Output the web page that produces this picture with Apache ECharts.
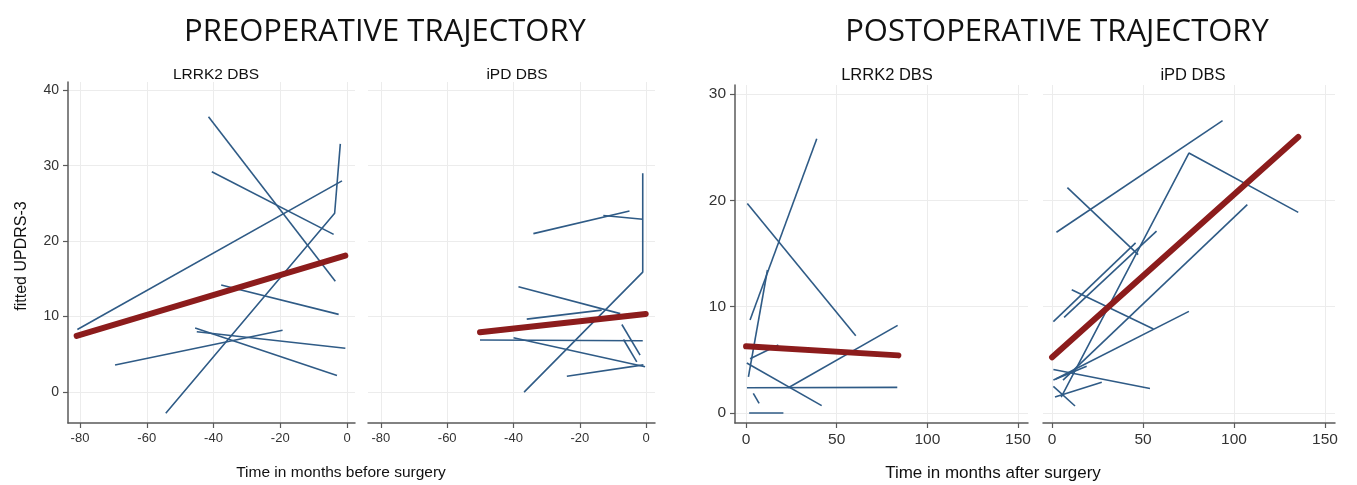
<!DOCTYPE html>
<html><head><meta charset="utf-8">
<script src="https://cdn.jsdelivr.net/npm/echarts@6/dist/echarts.min.js"></script>
<style>html,body{margin:0;padding:0;background:#fff}#c{width:1357px;height:485px}</style>
</head><body><div id="c"></div>
<script>
const preXTicks = [-80, -60, -40, -20, 0];
const preYTicks = [0, 10, 20, 30, 40];
const postXTicks = [0, 50, 100, 150];
const postYTicks = [0, 10, 20, 30];

const preLrrk2Lines = [
  [[-80.8, 8.3], [-1.5, 28.0]],
  [[-41.5, 36.5], [-3.5, 14.7]],
  [[-40.5, 29.2], [-4, 20.9]],
  [[-54.3, -2.8], [-3.7, 23.7], [-2, 32.9]],
  [[-37.7, 14.2], [-2.5, 10.3]],
  [[-45.5, 8.5], [-3, 2.2]],
  [[-45, 8.0], [-0.5, 5.8]],
  [[-69.5, 3.6], [-19.3, 8.2]]
];
const preLrrk2Fit = [[-81, 7.45], [-0.5, 18.1]];

const preIpdLines = [
  [[-36.8, 0], [-1, 15.9], [-1, 29]],
  [[-34, 21], [-5, 24]],
  [[-12.9, 23.4], [-1, 22.9]],
  [[-38.5, 13.95], [-7.8, 10.4]],
  [[-36, 9.67], [-13.4, 10.86]],
  [[-7.3, 8.96], [-1.8, 4.9]],
  [[-6.8, 6.97], [-2.8, 4.0]],
  [[-50.1, 6.9], [-1, 6.8]],
  [[-40, 7.2], [-0.3, 3.35]],
  [[-23.9, 2.1], [-0.8, 3.6]]
];
const preIpdFit = [[-50.1, 7.94], [-0.1, 10.36]];

const postLrrk2Lines = [
  [[2.2, 8.75], [39, 25.8]],
  [[1.3, 3.4], [11.8, 13.45]],
  [[0.7, 19.7], [60.5, 7.27]],
  [[0.4, 4.7], [41.7, 0.69]],
  [[0.5, 2.38], [83.4, 2.41]],
  [[23.3, 2.38], [83.6, 8.24]],
  [[2.2, 5.1], [17.8, 6.4]],
  [[4, 1.85], [7.2, 0.9]],
  [[1.7, 0], [20.6, 0]]
];
const postLrrk2Fit = [[0, 6.27], [84, 5.42]];

const postIpdLines = [
  [[2.4, 17], [93.7, 27.5]],
  [[5, 1.5], [75.2, 24.45], [135.3, 18.87]],
  [[8.4, 21.2], [47.3, 14.9]],
  [[0.7, 8.6], [45.9, 16.0]],
  [[6.6, 9.0], [57.4, 17.1]],
  [[10.8, 11.6], [55.7, 7.9]],
  [[2, 3.2], [75.2, 9.56]],
  [[6, 3.1], [107.3, 19.6]],
  [[0.7, 4.1], [53.8, 2.3]],
  [[0.7, 3.1], [19, 4.4]],
  [[1.6, 1.5], [27.3, 2.9]],
  [[0.7, 2.5], [12.6, 0.66]]
];
const postIpdFit = [[0, 5.24], [135.3, 25.96]];

const BLUE = '#2f5b86';
const RED = '#8c1c1c';
const AX = '#5a5a5a';
const GRIDC = '#ececec';
const FONT = 'Liberation Sans';

function xAxisCfg(grid, min, max, ticks, fs) {
  return {
    type: 'value', gridIndex: grid, min: min, max: max,
    axisLine: { show: true, onZero: false, lineStyle: { color: AX, width: 1.5 } },
    axisTick: { show: true, length: 5, customValues: ticks, lineStyle: { color: AX, width: 1.2 } },
    axisLabel: { show: true, customValues: ticks, margin: 9, color: '#333', fontSize: fs, fontFamily: FONT },
    splitLine: { show: true, customValues: ticks, lineStyle: { color: GRIDC, width: 1 } }
  };
}
function yAxisCfg(grid, min, max, ticks, showAxis, fs) {
  return {
    type: 'value', gridIndex: grid, min: min, max: max,
    axisLine: { show: showAxis, onZero: false, lineStyle: { color: AX, width: 1.5 } },
    axisTick: { show: showAxis, length: 5, customValues: ticks, lineStyle: { color: AX, width: 1.2 } },
    axisLabel: { show: showAxis, customValues: ticks, margin: 9, color: '#333', fontSize: fs, fontFamily: FONT },
    splitLine: { show: true, customValues: ticks, lineStyle: { color: GRIDC, width: 1 } }
  };
}

const series = [];
function addGroup(lines, fit, idx) {
  lines.forEach(function (l) {
    series.push({ type: 'line', xAxisIndex: idx, yAxisIndex: idx, data: l, symbol: 'none', silent: true,
      lineStyle: { color: BLUE, width: 1.6 }, z: 2 });
  });
  series.push({ type: 'line', xAxisIndex: idx, yAxisIndex: idx, data: fit, symbol: 'none', silent: true,
    lineStyle: { color: RED, width: 6, cap: 'round' }, z: 3 });
}
addGroup(preLrrk2Lines, preLrrk2Fit, 0);
addGroup(preIpdLines, preIpdFit, 1);
addGroup(postLrrk2Lines, postLrrk2Fit, 2);
addGroup(postIpdLines, postIpdFit, 3);

function txt(t, x, y, size, family) {
  return { text: t, left: x, top: y, textAlign: 'center', textVerticalAlign: 'middle',
    textStyle: { fontSize: size, fontFamily: family, fontWeight: 'normal', color: '#111' } };
}

const chart = echarts.init(document.getElementById('c'), null, { renderer: 'canvas' });
chart.setOption({
  animation: false,
  backgroundColor: '#fff',
  title: [
    txt('PREOPERATIVE TRAJECTORY', 380, 27, 31, 'Open Sans'),
    txt('POSTOPERATIVE TRAJECTORY', 1052, 27, 31, 'Open Sans'),
    txt('LRRK2 DBS', 211, 70, 15.5, FONT),
    txt('iPD DBS', 512, 70, 15.5, FONT),
    txt('LRRK2 DBS', 882, 70, 16.5, FONT),
    txt('iPD DBS', 1188, 70, 16.5, FONT),
    txt('Time in months before surgery', 336, 468, 15.5, FONT),
    txt('Time in months after surgery', 988, 468, 17, FONT)
  ],
  graphic: [{
    type: 'text', x: 22, y: 256, rotation: Math.PI / 2,
    style: { text: 'fitted UPDRS-3', fontSize: 16, fontFamily: FONT, fill: '#111', align: 'center', verticalAlign: 'middle' }
  }],
  grid: [
    { left: 68, top: 82, width: 287, height: 341 },
    { left: 368, top: 82, width: 287, height: 341 },
    { left: 735, top: 85, width: 293, height: 338 },
    { left: 1043, top: 85, width: 292, height: 338 }
  ],
  xAxis: [
    xAxisCfg(0, -83.6, 2.4, preXTicks, 13),
    xAxisCfg(1, -83.9, 2.7, preXTicks, 13),
    xAxisCfg(2, -6.1, 155.5, postXTicks, 15.5),
    xAxisCfg(3, -5, 155.5, postXTicks, 15.5)
  ],
  yAxis: [
    yAxisCfg(0, -4.1, 41.1, preYTicks, true, 14),
    yAxisCfg(1, -4.1, 41.1, preYTicks, false, 14),
    yAxisCfg(2, -0.94, 30.85, postYTicks, true, 15.5),
    yAxisCfg(3, -0.94, 30.85, postYTicks, false, 15.5)
  ],
  series: series
});
</script></body></html>
